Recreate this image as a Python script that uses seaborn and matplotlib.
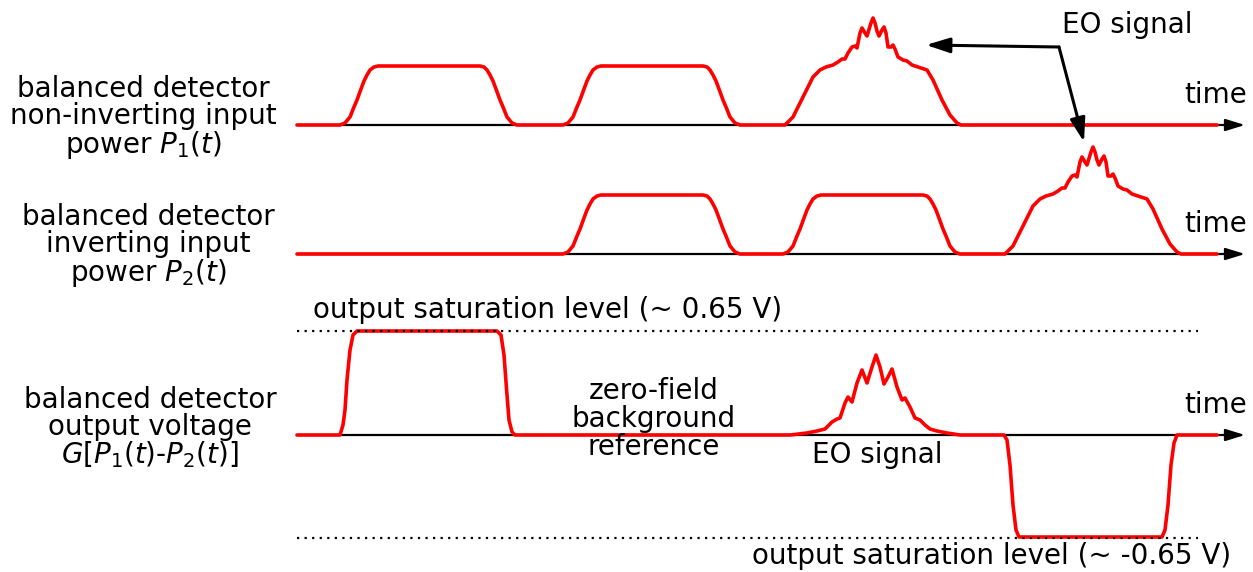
import matplotlib
matplotlib.use("Agg")
import matplotlib.pyplot as plt
import seaborn as sns

# baseline of each trace, in px from the top of the picture
baselines = [125, 254, 435]
t_start = 297
t_red_end = 1217
t_axis_end = 1245
sat_top = 331
sat_bottom = 538
sat_end = 1198

# flat-top optical pulse: offset from rise start, height above baseline
pulse_dx = [0, 5, 10, 14, 17, 21, 24, 27, 30, 34, 38,
            140, 144, 147, 150, 153, 156, 160, 163, 167, 172, 177]
pulse_amp = [0, 2, 8, 18, 25, 36, 44, 50, 55, 58, 59,
             59, 58, 55, 50, 44, 36, 25, 18, 8, 2, 0]

# EO pulse on the detector inputs: offset from peak, height above baseline
eo_dx = [-88, -80, -70, -60, -53, -47, -40, -35, -31, -28, -25, -21, -18, -16,
         -13, -11, -8, -6, -2, 0, 2, 4, 6, 9, 11, 13, 15, 18, 20, 22, 25, 30,
         34, 39, 45, 54, 60, 69, 77, 84, 88]
eo_amp = [0, 8, 28, 48, 55, 58, 60, 63, 66, 66, 72, 78, 79, 77,
          92, 97, 92, 89, 102, 107, 102, 94, 89, 95, 98, 92, 78, 78, 80, 76, 68, 65,
          64, 60, 58, 55, 45, 25, 10, 2, 0]

p1_pulse_starts = [340, 563]
p1_eo_peak = 873
p2_pulse_starts = [563, 783]
p2_eo_peak = 1093

# detector output: saturated + pulse, EO difference, saturated - pulse
out_t = [297, 340, 343, 345, 347, 350, 353, 357, 497, 501, 504, 507, 509, 512, 515,
         790, 807, 817, 825, 832, 837, 840, 845, 848, 852, 857, 862, 867, 872, 876,
         880, 884, 888, 892, 897, 902, 905, 910, 915, 920, 925, 930, 937, 947, 960,
         1004, 1007, 1010, 1013, 1016, 1019, 1162, 1165, 1168, 1171, 1174, 1177, 1217]
out_amp = [0, 0, 10, 25, 55, 85, 100, 104, 104, 100, 80, 40, 15, 3, 0,
           0, 2, 4, 6, 13, 16, 17, 32, 38, 33, 52, 65, 52, 68, 80,
           68, 51, 58, 66, 48, 35, 37, 28, 17, 15, 10, 6, 4, 2, 0,
           0, -5, -30, -70, -95, -102, -102, -95, -70, -30, -8, 0, 0]


def input_trace(pulse_starts, eo_peak):
    t, a = [t_start], [0]
    for s in pulse_starts:
        t += [s + d for d in pulse_dx]
        a += pulse_amp
    t += [eo_peak + d for d in eo_dx]
    a += eo_amp
    t.append(t_red_end)
    a.append(0)
    return t, a


traces = [input_trace(p1_pulse_starts, p1_eo_peak),
          input_trace(p2_pulse_starts, p2_eo_peak),
          (out_t, out_amp)]

sns.set_style("white")
plt.rcParams["font.family"] = ["DejaVu Sans"]
plt.rcParams["mathtext.fontset"] = "dejavusans"
plt.rcParams["text.color"] = "black"

fig = plt.figure(figsize=(12.53, 5.72), dpi=100)
ax = fig.add_axes([0, 0, 1, 1])

for base, (t, a) in zip(baselines, traces):
    # time axis with arrow
    ax.annotate("", xy=(t_axis_end, base), xytext=(t_start, base),
                arrowprops=dict(arrowstyle="-|>,head_length=0.65,head_width=0.2",
                                color="black", lw=1.6, mutation_scale=18,
                                shrinkA=0, shrinkB=0), zorder=2)
    sns.lineplot(x=t, y=[base - v for v in a], color="red", lw=2.6,
                 estimator=None, sort=False, ax=ax, zorder=3,
                 solid_joinstyle="round", solid_capstyle="round")
    ax.text(1216, base - 30, "time", fontsize=20, ha="center", va="center")

# saturation levels
for lvl in [sat_top, sat_bottom]:
    ax.plot([t_start, sat_end], [lvl, lvl], color="black", lw=1.6,
            ls=(0, (1, 2.4)), zorder=4)

fs = 20
ax.text(143, 118, "balanced detector\nnon-inverting input\npower $P_1(t)$",
        fontsize=fs, ha="center", va="center", linespacing=0.95)
ax.text(148, 246, "balanced detector\ninverting input\npower $P_2(t)$",
        fontsize=fs, ha="center", va="center", linespacing=0.95)
ax.text(150, 428, "balanced detector\noutput voltage\n"
        r"$G[P_{\mathit{1}}(t)$-$P_{\mathit{2}}(t)]$",
        fontsize=fs, ha="center", va="center", linespacing=0.95)

ax.text(548, 310, "output saturation level (~ 0.65 V)", fontsize=fs,
        ha="center", va="center")
ax.text(992, 556, "output saturation level (~ -0.65 V)", fontsize=fs,
        ha="center", va="center")
ax.text(654, 419, "zero-field\nbackground\nreference", fontsize=fs,
        ha="center", va="center", linespacing=1.0)
ax.text(877, 455, "EO signal", fontsize=fs, ha="center", va="center")
ax.text(1127, 25, "EO signal", fontsize=fs, ha="center", va="center")

# pointers from the top "EO signal" label
corner = (1059, 47)
for tip in [(926, 45), (1084, 142)]:
    ax.annotate("", xy=tip, xytext=corner,
                arrowprops=dict(arrowstyle="-|>,head_length=1.1,head_width=0.35",
                                color="black", lw=2.2, mutation_scale=13,
                                shrinkA=0, shrinkB=0), zorder=5)

ax.set_xlim(0, 1253)
ax.set_ylim(572, 0)
ax.axis("off")

fig.savefig("out.png", dpi=100)
